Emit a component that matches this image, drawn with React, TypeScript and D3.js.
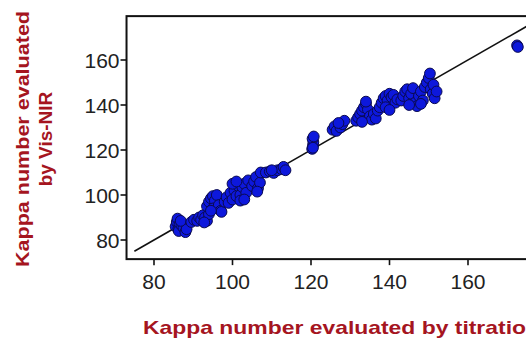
import React from "react";
import { scaleLinear, line } from "d3";

// kappa number by titration (x) vs kappa number by Vis-NIR (y)
const titration = [
  85.5, 85.8, 86, 86.2, 86.5, 86.3, 87, 87.5, 88, 88.3, 86.8,
  89.5, 90.2, 91, 91.5, 92, 92.5, 93, 93.5, 94, 92.8,
  93.5, 94, 94.5, 95, 95.5, 96, 95, 96.5, 97, 97.2, 94.5,
  98, 98.5, 99, 99.5, 100, 100.5, 101, 101.5, 102, 102.5, 103, 103.5, 104, 100, 101, 102, 103,
  105, 105.5, 106, 106.5, 107, 107.2, 106.3,
  108.5, 109.5, 110.5, 111.5, 112.5, 113, 113.5, 110,
  120.3, 120.5, 120.6, 120.4, 120.7, 120.5,
  125.5, 126, 126.5, 127.5, 128, 128.5, 127,
  131.5, 132, 132.5, 133, 133.5, 134, 134.5, 135, 135.5, 136, 136.5, 133, 134, 137,
  137.5, 138, 138.5, 139, 139.5, 140, 140.5, 141, 141.5, 142, 139, 140,
  143, 143.5, 144, 144.5, 145, 145.5, 146, 146.5, 147, 147.5, 148, 148.5, 149, 149.5, 150, 150.3, 150.5, 151, 151.5, 151.2, 152, 148, 145,
  172.5, 172.7,
];
const visNir = [
  86, 88, 89.5, 85, 87, 84, 86.5, 85.5, 83.5, 84.8, 88.5,
  88, 89, 88.5, 90, 89, 91, 90, 88.5, 91.5, 87.8,
  95, 97, 98.5, 99.5, 97.5, 100, 94, 95.5, 93, 92.5, 93,
  97, 99, 96.5, 101, 98, 102, 99.5, 104, 100, 103.5, 105, 101, 106.5, 105, 106, 97.5, 98,
  104, 106, 108, 103, 105.5, 110, 101.5,
  110, 110.5, 109.8, 111, 111.5, 112.5, 111, 111,
  120.5, 122, 123.5, 125, 126, 121,
  129, 130.5, 128.5, 130, 131.5, 133, 132,
  133, 134.5, 136, 137.5, 139, 140.5, 138, 135, 133.5, 136, 134, 132.5, 141.5, 137.5,
  139, 141, 143, 144, 142, 145, 143.5, 144.5, 141, 142.5, 139, 137.8,
  142, 144, 146, 147, 143, 145, 147.5, 141, 139.5, 144, 146, 142, 148, 150, 152, 154, 147, 145, 143, 149, 146, 140.5, 140,
  166.5, 165.8,
];
const tickValues = [80, 100, 120, 140, 160];
const identityLine = [75, 185];

const W = 526;
const H = 340;
const red = "#a5151f";

export default function App() {
  const x = scaleLinear().domain([80, 160]).range([154, 468]);
  const y = scaleLinear().domain([80, 160]).range([240, 60]);

  const left = x(73);
  const top = y(179.5);
  const bottom = y(71.5);
  const right = W + 10;

  const diag = line<number>()
    .x((d) => x(d))
    .y((d) => y(d));

  const pts = titration.map((t, i) => [t, visNir[i]]);

  return (
    <svg
      width={W}
      height={H}
      style={{ position: "absolute", left: 0, top: 0, background: "#fff" }}
      fontFamily="'Liberation Sans', Arial, sans-serif"
    >
      <defs>
        <clipPath id="plot">
          <rect x={left} y={top} width={right - left} height={bottom - top} />
        </clipPath>
      </defs>

      {/* identity line */}
      <path
        d={diag(identityLine) || ""}
        stroke="#111"
        strokeWidth={1.6}
        fill="none"
        clipPath="url(#plot)"
      />

      {/* points */}
      <g clipPath="url(#plot)">
        {pts.map((p, i) => (
          <circle
            key={i}
            cx={x(p[0])}
            cy={y(p[1])}
            r={5.4}
            fill="#0d18dc"
            stroke="#0a0a50"
            strokeWidth={1}
          />
        ))}
      </g>

      {/* frame */}
      <rect
        x={left}
        y={top}
        width={right - left}
        height={bottom - top}
        fill="none"
        stroke="#111"
        strokeWidth={2}
      />

      {/* y axis */}
      {tickValues.map((v) => (
        <g key={"y" + v}>
          <line x1={left - 6} x2={left} y1={y(v)} y2={y(v)} stroke="#111" strokeWidth={1.6} />
          <text
            x={left - 7}
            y={y(v)}
            dy="0.36em"
            textAnchor="end"
            fontSize={21}
            fill="#222"
          >
            {v}
          </text>
        </g>
      ))}

      {/* x axis */}
      {tickValues.map((v) => (
        <g key={"x" + v}>
          <line x1={x(v)} x2={x(v)} y1={bottom} y2={bottom + 6} stroke="#111" strokeWidth={1.6} />
          <text x={x(v)} y={bottom + 30} textAnchor="middle" fontSize={21} fill="#222">
            {v}
          </text>
        </g>
      ))}

      {/* axis titles */}
      <text
        x={143}
        y={334}
        fontSize={19}
        fontWeight="bold"
        fill={red}
        textLength={397}
        lengthAdjust="spacingAndGlyphs"
      >
        Kappa number evaluated by titration
      </text>
      <g transform="translate(0,139) rotate(-90)">
        <text
          x={0}
          y={29}
          textAnchor="middle"
          fontSize={19}
          fontWeight="bold"
          fill={red}
          textLength={256}
          lengthAdjust="spacingAndGlyphs"
        >
          Kappa number evaluated
        </text>
        <text x={0} y={52} textAnchor="middle" fontSize={19} fontWeight="bold" fill={red}>
          by Vis-NIR
        </text>
      </g>
    </svg>
  );
}
